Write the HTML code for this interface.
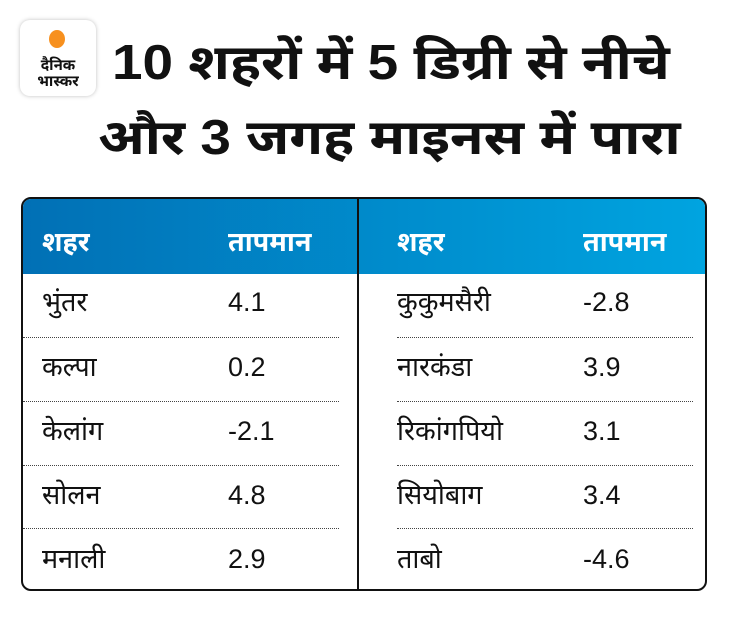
<!DOCTYPE html>
<html><head><meta charset="utf-8">
<style>
html,body{margin:0;padding:0;background:#fff;}
body{width:730px;height:617px;position:relative;overflow:hidden;font-family:"Liberation Sans","Noto Sans Devanagari","Lohit Devanagari",sans-serif;color:#111;}
.logo{position:absolute;left:20px;top:20px;width:76px;height:76px;border-radius:10px;background:#fff;box-shadow:0 0 4px rgba(0,0,0,0.25);}
.dot{position:absolute;left:49px;top:30px;width:16px;height:18px;border-radius:50%;background:#f7901e;}
.lt{position:absolute;left:20px;width:76px;text-align:center;font-weight:bold;font-size:15px;line-height:15px;color:#111;}
.t{position:absolute;font-weight:bold;font-size:49px;white-space:nowrap;line-height:1;transform-origin:0 0;transform:scaleX(1.12);}
.tbl{position:absolute;left:21px;top:197px;width:686px;height:394px;border:2px solid #111;border-radius:10px;overflow:hidden;box-sizing:border-box;}
.hd{position:absolute;left:0;top:0;width:100%;height:75px;background:linear-gradient(90deg,#0170b5,#00a4e0);}
.div{position:absolute;left:334px;top:0;width:2px;height:100%;background:#111;}
.c{position:absolute;font-size:27px;white-space:nowrap;line-height:1;}
.h{color:#fff;font-weight:bold;top:30px;}
.dl{position:absolute;height:0;border-top:1px dotted #444;}
</style></head><body>
<div class="logo"></div>
<div class="dot"></div>
<div class="lt" style="top:58px">दैनिक</div>
<div class="lt" style="top:74px">भास्कर</div>
<div class="t" style="left:112px;top:39px">10 शहरों में 5 डिग्री से नीचे</div>
<div class="t" style="left:98px;top:114px">और 3 जगह माइनस में पारा</div>
<div class="tbl">
<div class="hd"></div>
<div class="div"></div>
<div class="c h" style="left:19px">शहर</div>
<div class="c h" style="left:205px">तापमान</div>
<div class="c h" style="left:374px">शहर</div>
<div class="c h" style="left:560px">तापमान</div>
<div class="dl" style="left:0;width:316px;top:138px"></div>
<div class="dl" style="left:0;width:316px;top:202px"></div>
<div class="dl" style="left:0;width:316px;top:266px"></div>
<div class="dl" style="left:0;width:316px;top:329px"></div>
<div class="dl" style="left:374px;width:296px;top:138px"></div>
<div class="dl" style="left:374px;width:296px;top:202px"></div>
<div class="dl" style="left:374px;width:296px;top:266px"></div>
<div class="dl" style="left:374px;width:296px;top:329px"></div>

<div class="c" style="left:19px;top:90px">भुंतर</div><div class="c" style="left:205px;top:90px">4.1</div>
<div class="c" style="left:19px;top:155px">कल्पा</div><div class="c" style="left:205px;top:155px">0.2</div>
<div class="c" style="left:19px;top:219px">केलांग</div><div class="c" style="left:205px;top:219px">-2.1</div>
<div class="c" style="left:19px;top:283px">सोलन</div><div class="c" style="left:205px;top:283px">4.8</div>
<div class="c" style="left:19px;top:347px">मनाली</div><div class="c" style="left:205px;top:347px">2.9</div>

<div class="c" style="left:374px;top:90px">कुकुमसैरी</div><div class="c" style="left:560px;top:90px">-2.8</div>
<div class="c" style="left:374px;top:155px">नारकंडा</div><div class="c" style="left:560px;top:155px">3.9</div>
<div class="c" style="left:374px;top:219px">रिकांगपियो</div><div class="c" style="left:560px;top:219px">3.1</div>
<div class="c" style="left:374px;top:283px">सियोबाग</div><div class="c" style="left:560px;top:283px">3.4</div>
<div class="c" style="left:374px;top:347px">ताबो</div><div class="c" style="left:560px;top:347px">-4.6</div>
</div>
</body></html>
